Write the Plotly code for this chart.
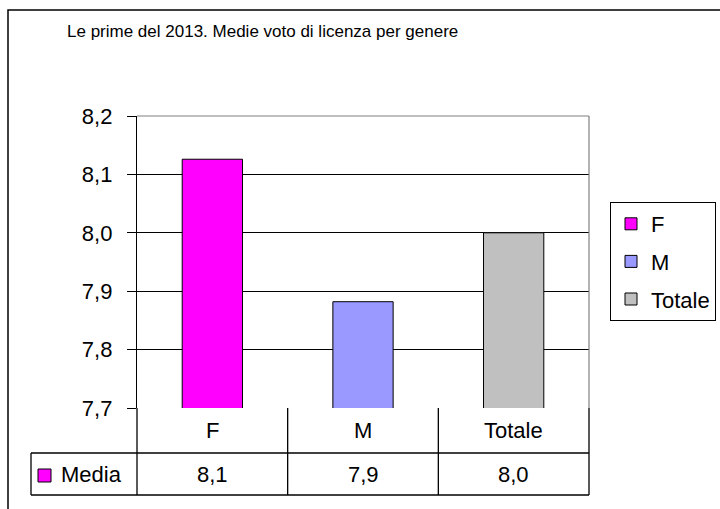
import plotly.graph_objects as go

# ---- data ----
categories = ["F", "M", "Totale"]
values = [8.126, 7.882, 8.0]
colors = ["#FF00FF", "#9999FF", "#C0C0C0"]
row_label = "Media"
title_text = "Le prime del 2013. Medie voto di licenza per genere"
y_ticks = [7.7, 7.8, 7.9, 8.0, 8.1, 8.2]

W, H = 720, 509
def fx(px):
    return px / W
def fy(py):
    return 1 - py / H

PL, PR, PT, PB = 137, 589, 116, 408   # plot area in pixels
ROW1, ROW2 = 453, 495                # table row bottoms
TBL_LEFT = 31
FONT = "Liberation Sans, Arial, sans-serif"

fig = go.Figure()
for c, v, col in zip(categories, values, colors):
    fig.add_trace(go.Bar(
        x=[c], y=[v], name=c, legendgroup=c,
        marker=dict(color=col, line=dict(color="black", width=1)),
        width=0.4, hoverinfo="skip",
    ))

shapes = []
# outer chart border (top and left visible)
shapes.append(dict(type="rect", xref="paper", yref="paper",
                   x0=fx(8), x1=fx(730), y0=fy(10), y1=fy(530),
                   line=dict(color="black", width=1.5), layer="below"))
# plot area top & right border (gray)
shapes.append(dict(type="line", xref="paper", yref="paper",
                   x0=fx(PL), x1=fx(PR), y0=fy(PT), y1=fy(PT),
                   line=dict(color="#808080", width=1.2), layer="above"))
shapes.append(dict(type="line", xref="paper", yref="paper",
                   x0=fx(PR), x1=fx(PR), y0=fy(PT), y1=fy(PB),
                   line=dict(color="#808080", width=1.2), layer="above"))
# data table lines
tl = dict(color="black", width=1.3)
ncat = len(categories)
cw = (PR - PL) / ncat
for i in range(ncat + 1):
    xp = PL + i * cw
    shapes.append(dict(type="line", xref="paper", yref="paper",
                       x0=fx(xp), x1=fx(xp), y0=fy(PB), y1=fy(ROW2), line=tl))
shapes.append(dict(type="line", xref="paper", yref="paper",
                   x0=fx(TBL_LEFT), x1=fx(TBL_LEFT), y0=fy(ROW1), y1=fy(ROW2), line=tl))
shapes.append(dict(type="line", xref="paper", yref="paper",
                   x0=fx(TBL_LEFT), x1=fx(PR), y0=fy(ROW1), y1=fy(ROW1), line=tl))
shapes.append(dict(type="line", xref="paper", yref="paper",
                   x0=fx(TBL_LEFT), x1=fx(PR), y0=fy(ROW2), y1=fy(ROW2), line=tl))
# legend key in table
shapes.append(dict(type="rect", xref="paper", yref="paper",
                   x0=fx(38), x1=fx(51), y0=fy(469), y1=fy(482),
                   fillcolor=colors[0], line=dict(color="black", width=1)))

annotations = []
annotations.append(dict(text=title_text, xref="paper", yref="paper",
                        x=fx(262), y=fy(31), showarrow=False,
                        font=dict(size=17, color="black", family=FONT),
                        xanchor="center", yanchor="middle"))
for c, v in zip(categories, values):
    annotations.append(dict(text=c, xref="x", yref="paper", x=c, y=fy((PB + ROW1) / 2),
                            showarrow=False, xanchor="center", yanchor="middle",
                            font=dict(size=22, color="black", family=FONT)))
    annotations.append(dict(text=f"{v:.1f}".replace(".", ","), xref="x", yref="paper",
                            x=c, y=fy((ROW1 + ROW2) / 2),
                            showarrow=False, xanchor="center", yanchor="middle",
                            font=dict(size=22, color="black", family=FONT)))
annotations.append(dict(text=row_label, xref="paper", yref="paper", x=fx(59),
                        y=fy((ROW1 + ROW2) / 2), showarrow=False,
                        xanchor="left", yanchor="middle",
                        font=dict(size=22, color="black", family=FONT)))

fig.update_layout(
    template="none",
    width=W, height=H, autosize=False,
    margin=dict(l=0, r=0, t=0, b=0, pad=0),
    paper_bgcolor="white", plot_bgcolor="white",
    separators=",.",
    barmode="overlay",
    font=dict(family=FONT, size=22, color="black"),
    xaxis=dict(domain=[fx(PL), fx(PR)], showticklabels=False, showgrid=False,
               ticks="", showline=False, zeroline=False, fixedrange=True,
               automargin=False),
    yaxis=dict(domain=[fy(PB), fy(PT)], range=[7.7, 8.2], tickvals=y_ticks,
               tickformat=".1f", showgrid=True, gridcolor="black", gridwidth=1,
               showline=True, linecolor="black", linewidth=1.3,
               ticks="outside", ticklen=9, tickcolor="black", tickwidth=1.3,
               ticklabelstandoff=10, zeroline=False, automargin=False,
               fixedrange=True,
               tickfont=dict(size=22, family=FONT, color="black")),
    legend=dict(x=fx(610), y=fy(202), xanchor="left", yanchor="top",
                bordercolor="black", borderwidth=1, bgcolor="white",
                font=dict(size=22, family=FONT, color="black"),
                tracegroupgap=6, itemwidth=30),
    shapes=shapes, annotations=annotations,
)

fig.write_html("out.html", config={"displayModeBar": False},
               post_script="document.body.style.margin='0';document.body.style.padding='0';document.body.style.overflow='hidden';")
